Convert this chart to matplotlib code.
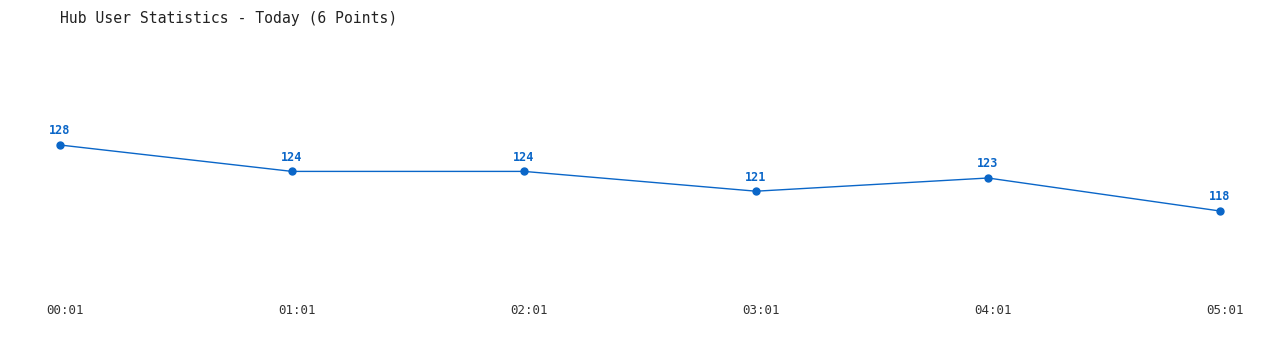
import matplotlib
matplotlib.use("Agg")
import matplotlib.pyplot as plt
import matplotlib.transforms as mtransforms

# data
times = ["00:01", "01:01", "02:01", "03:01", "04:01", "05:01"]
users = [128, 124, 124, 121, 123, 118]

BLUE = "#0a66c8"

fig = plt.figure(figsize=(12.8, 3.5), dpi=100)
# axes placed so that x 0..5 spans px 60..1220, y 110..135 spans px 263.8..98.8
ax = fig.add_axes([60 / 1280, (350 - 263.8) / 350, 1160 / 1280, 165 / 350])
ax.set_xlim(0, len(times) - 1)
ax.set_ylim(110, 135)

xs = list(range(len(times)))
ax.plot(xs, users, color=BLUE, lw=1, marker="o", ms=5, zorder=3, clip_on=False)

for x, v in zip(xs, users):
    ax.annotate(str(v), (x, v), xytext=(0, 5.5), textcoords="offset points",
                ha="center", va="bottom", color=BLUE, fontsize=8.5,
                fontweight="bold", family="DejaVu Sans Mono")

for s in ax.spines.values():
    s.set_visible(False)
ax.set_yticks([])
ax.set_xticks(xs)
ax.set_xticklabels(times, family="DejaVu Sans Mono", fontsize=9, color="#333333")
ax.tick_params(axis="x", length=0, pad=29)
shift = mtransforms.ScaledTranslation(5 / 100, 0, fig.dpi_scale_trans)
for lab in ax.get_xticklabels():
    lab.set_transform(lab.get_transform() + shift)

fig.text(60 / 1280, 1 - 18 / 350, "Hub User Statistics - Today (6 Points)",
         ha="left", va="center", family="DejaVu Sans Mono", fontsize=10.6,
         color="#222222")

fig.savefig("out.png", dpi=100, facecolor="white")
